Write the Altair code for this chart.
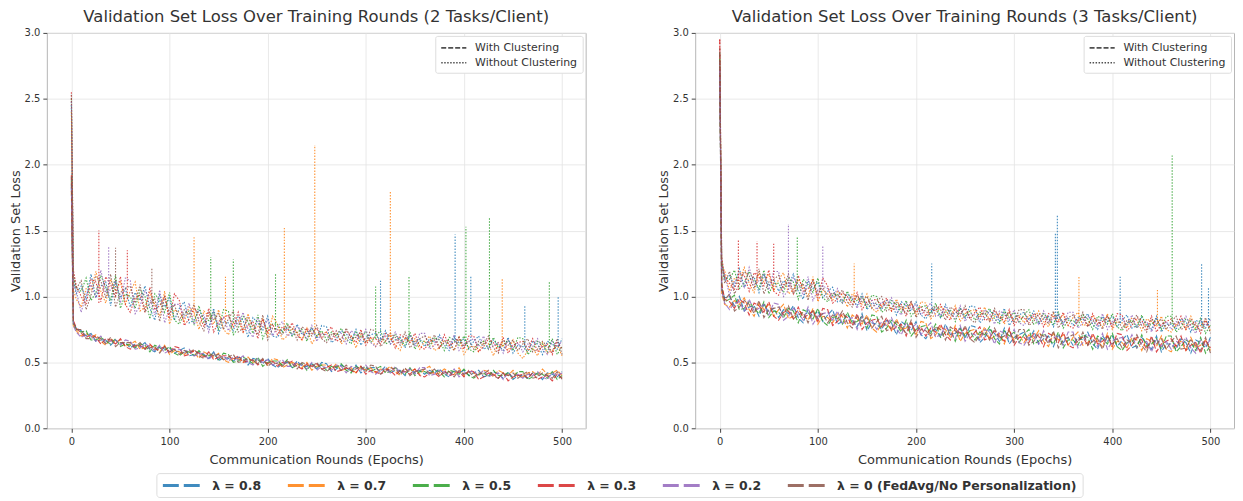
import altair as alt
import pandas as pd

EPOCHS = [0, 2, 5,
          10, 15, 20, 25, 30, 35, 40, 45, 50, 55,
          60, 65, 70, 75, 80, 85, 90, 95, 100, 105,
          110, 115, 120, 125, 130, 135, 140, 145, 150, 155,
          160, 165, 170, 175, 180, 185, 190, 195, 200, 205,
          210, 215, 220, 225, 230, 235, 240, 245, 250, 255,
          260, 265, 270, 275, 280, 285, 290, 295, 300, 305,
          310, 315, 320, 325, 330, 335, 340, 345, 350, 355,
          360, 365, 370, 375, 380, 385, 390, 395, 400, 405,
          410, 415, 420, 425, 430, 435, 440, 445, 450, 455,
          460, 465, 470, 475, 480, 485, 490, 495, 500]
LAMBDAS = ["λ = 0.8", "λ = 0.7", "λ = 0.5", "λ = 0.3", "λ = 0.2",
           "λ = 0 (FedAvg/No Personalization)"]
COLORS = ["#1f77b4", "#ff7f0e", "#2ca02c", "#d62728", "#9467bd", "#8c564b"]
CLUSTERS = ["With Clustering", "Without Clustering"]
PANELS = ["2 Tasks/Client", "3 Tasks/Client"]

# ================= 2 tasks / client, with clustering (dashed) =================
T2_WITH_08 = [1.85, 0.80, 0.76,
              0.74, 0.70, 0.72, 0.66, 0.67, 0.67, 0.63, 0.67, 0.64, 0.65,
              0.61, 0.64, 0.62, 0.65, 0.60, 0.58, 0.62, 0.60, 0.61, 0.57,
              0.59, 0.61, 0.55, 0.56, 0.58, 0.56, 0.53, 0.58, 0.51, 0.54,
              0.53, 0.51, 0.54, 0.53, 0.48, 0.53, 0.52, 0.49, 0.53, 0.48,
              0.46, 0.49, 0.50, 0.46, 0.51, 0.47, 0.47, 0.49, 0.45, 0.50,
              0.49, 0.43, 0.45, 0.48, 0.46, 0.43, 0.48, 0.42, 0.45, 0.46,
              0.46, 0.43, 0.47, 0.42, 0.44, 0.44, 0.40, 0.45, 0.42, 0.44,
              0.41, 0.44, 0.42, 0.45, 0.41, 0.39, 0.44, 0.42, 0.44, 0.40,
              0.42, 0.44, 0.39, 0.40, 0.43, 0.41, 0.38, 0.43, 0.37, 0.40,
              0.40, 0.38, 0.42, 0.41, 0.37, 0.42, 0.41, 0.39, 0.43]
T2_WITH_07 = [1.80, 0.78, 0.74,
              0.70, 0.72, 0.69, 0.71, 0.66, 0.63, 0.68, 0.65, 0.67, 0.62,
              0.64, 0.66, 0.60, 0.61, 0.63, 0.61, 0.58, 0.63, 0.56, 0.59,
              0.58, 0.56, 0.59, 0.58, 0.53, 0.58, 0.56, 0.54, 0.57, 0.52,
              0.50, 0.53, 0.53, 0.50, 0.54, 0.50, 0.51, 0.52, 0.48, 0.53,
              0.52, 0.46, 0.48, 0.50, 0.49, 0.46, 0.50, 0.44, 0.47, 0.48,
              0.48, 0.45, 0.49, 0.44, 0.45, 0.46, 0.42, 0.47, 0.44, 0.46,
              0.42, 0.45, 0.44, 0.47, 0.43, 0.40, 0.45, 0.43, 0.45, 0.41,
              0.45, 0.47, 0.41, 0.42, 0.45, 0.43, 0.41, 0.46, 0.40, 0.43,
              0.42, 0.40, 0.44, 0.43, 0.39, 0.44, 0.42, 0.40, 0.44, 0.39,
              0.39, 0.42, 0.43, 0.40, 0.45, 0.41, 0.42, 0.44, 0.40]
T2_WITH_05 = [1.88, 0.79, 0.75,
              0.73, 0.74, 0.67, 0.67, 0.69, 0.66, 0.64, 0.68, 0.62, 0.64,
              0.63, 0.61, 0.64, 0.63, 0.58, 0.63, 0.61, 0.59, 0.62, 0.57,
              0.55, 0.58, 0.58, 0.55, 0.59, 0.55, 0.55, 0.57, 0.52, 0.57,
              0.56, 0.50, 0.51, 0.54, 0.52, 0.49, 0.54, 0.47, 0.50, 0.51,
              0.51, 0.48, 0.52, 0.46, 0.48, 0.49, 0.44, 0.49, 0.46, 0.48,
              0.44, 0.47, 0.46, 0.49, 0.44, 0.42, 0.47, 0.45, 0.47, 0.43,
              0.45, 0.47, 0.42, 0.43, 0.46, 0.43, 0.41, 0.46, 0.40, 0.43,
              0.43, 0.41, 0.44, 0.43, 0.39, 0.44, 0.43, 0.41, 0.45, 0.40,
              0.38, 0.41, 0.42, 0.39, 0.44, 0.40, 0.40, 0.42, 0.38, 0.43,
              0.43, 0.37, 0.39, 0.42, 0.41, 0.38, 0.43, 0.37, 0.40]
T2_WITH_03 = [1.92, 0.82, 0.76,
              0.72, 0.69, 0.71, 0.69, 0.64, 0.68, 0.67, 0.64, 0.68, 0.62,
              0.60, 0.63, 0.63, 0.60, 0.64, 0.60, 0.60, 0.62, 0.57, 0.62,
              0.61, 0.55, 0.56, 0.59, 0.57, 0.54, 0.58, 0.52, 0.54, 0.55,
              0.55, 0.52, 0.55, 0.50, 0.51, 0.52, 0.48, 0.52, 0.49, 0.51,
              0.47, 0.50, 0.49, 0.51, 0.47, 0.45, 0.49, 0.47, 0.49, 0.45,
              0.46, 0.48, 0.43, 0.44, 0.46, 0.44, 0.42, 0.47, 0.41, 0.44,
              0.43, 0.41, 0.45, 0.44, 0.40, 0.44, 0.43, 0.41, 0.45, 0.40,
              0.39, 0.42, 0.42, 0.39, 0.44, 0.40, 0.41, 0.43, 0.39, 0.44,
              0.43, 0.37, 0.39, 0.42, 0.41, 0.38, 0.42, 0.36, 0.39, 0.40,
              0.41, 0.38, 0.42, 0.37, 0.39, 0.40, 0.36, 0.41, 0.38]
T2_WITH_02 = [1.83, 0.78, 0.73,
              0.69, 0.71, 0.70, 0.66, 0.70, 0.65, 0.66, 0.67, 0.63, 0.67,
              0.66, 0.60, 0.61, 0.64, 0.62, 0.59, 0.63, 0.57, 0.59, 0.60,
              0.60, 0.57, 0.60, 0.55, 0.56, 0.57, 0.52, 0.57, 0.53, 0.55,
              0.51, 0.54, 0.52, 0.55, 0.50, 0.48, 0.53, 0.50, 0.52, 0.48,
              0.50, 0.52, 0.47, 0.47, 0.50, 0.48, 0.45, 0.50, 0.44, 0.47,
              0.46, 0.44, 0.48, 0.47, 0.42, 0.47, 0.46, 0.44, 0.48, 0.43,
              0.41, 0.44, 0.45, 0.42, 0.47, 0.42, 0.43, 0.45, 0.41, 0.46,
              0.46, 0.40, 0.41, 0.44, 0.43, 0.40, 0.45, 0.39, 0.42, 0.43,
              0.43, 0.40, 0.44, 0.39, 0.41, 0.42, 0.37, 0.42, 0.39, 0.41,
              0.38, 0.41, 0.40, 0.43, 0.39, 0.37, 0.42, 0.40, 0.42]
T2_WITH_00 = [1.91, 0.81, 0.75,
              0.75, 0.68, 0.68, 0.70, 0.68, 0.64, 0.69, 0.62, 0.65, 0.65,
              0.65, 0.62, 0.65, 0.60, 0.61, 0.62, 0.57, 0.62, 0.58, 0.60,
              0.56, 0.59, 0.57, 0.60, 0.55, 0.53, 0.57, 0.55, 0.56, 0.52,
              0.54, 0.56, 0.50, 0.51, 0.53, 0.51, 0.49, 0.53, 0.47, 0.50,
              0.49, 0.47, 0.51, 0.49, 0.45, 0.50, 0.48, 0.46, 0.50, 0.45,
              0.43, 0.46, 0.47, 0.44, 0.48, 0.44, 0.45, 0.47, 0.43, 0.48,
              0.47, 0.41, 0.43, 0.46, 0.45, 0.41, 0.46, 0.40, 0.43, 0.44,
              0.45, 0.42, 0.45, 0.40, 0.42, 0.43, 0.39, 0.44, 0.41, 0.43,
              0.39, 0.42, 0.41, 0.44, 0.40, 0.38, 0.42, 0.40, 0.42, 0.38,
              0.41, 0.43, 0.38, 0.39, 0.42, 0.40, 0.38, 0.43, 0.37]

# ================= 2 tasks / client, without clustering (dotted) =================
T2_WITHOUT_08 = [2.45, 1.12, 1.02,
                 1.08, 0.98, 1.17, 0.99, 1.08, 1.11, 0.93, 1.12, 0.99, 1.06,
                 0.92, 1.03, 0.97, 1.08, 0.91, 0.82, 1.01, 0.92, 0.99, 0.82,
                 0.91, 0.96, 0.80, 0.82, 0.90, 0.83, 0.76, 0.91, 0.72, 0.81,
                 0.80, 0.74, 0.85, 0.82, 0.69, 0.84, 0.80, 0.74, 0.85, 0.70,
                 0.69, 0.75, 0.76, 0.70, 0.79, 0.71, 0.72, 0.76, 0.68, 0.78,
                 0.77, 0.65, 0.68, 0.74, 0.72, 0.66, 0.75, 0.63, 0.69, 0.71,
                 0.72, 0.66, 0.74, 0.64, 0.67, 0.69, 0.61, 0.71, 0.64, 0.68,
                 0.62, 0.68, 0.65, 0.71, 0.63, 0.59, 0.69, 0.65, 0.68, 0.60,
                 0.66, 0.70, 0.60, 0.62, 0.67, 0.63, 0.59, 0.69, 0.57, 0.63,
                 0.62, 0.58, 0.66, 0.64, 0.56, 0.66, 0.64, 0.60, 0.68]
T2_WITHOUT_07 = [2.40, 1.05, 0.98,
                 0.92, 1.06, 1.05, 1.19, 1.04, 0.95, 1.13, 1.04, 1.11, 0.94,
                 1.04, 1.11, 0.89, 0.92, 1.03, 0.94, 0.85, 1.04, 0.79, 0.90,
                 0.88, 0.81, 0.92, 0.88, 0.75, 0.89, 0.85, 0.79, 0.90, 0.75,
                 0.71, 0.80, 0.82, 0.73, 0.87, 0.75, 0.77, 0.83, 0.70, 0.85,
                 0.79, 0.67, 0.70, 0.76, 0.73, 0.67, 0.76, 0.64, 0.70, 0.72,
                 0.73, 0.67, 0.74, 0.64, 0.68, 0.70, 0.61, 0.71, 0.65, 0.69,
                 0.62, 0.68, 0.66, 0.72, 0.63, 0.59, 0.69, 0.65, 0.68, 0.60,
                 0.66, 0.70, 0.59, 0.61, 0.67, 0.63, 0.59, 0.69, 0.56, 0.62,
                 0.62, 0.58, 0.66, 0.64, 0.55, 0.65, 0.63, 0.59, 0.67, 0.57,
                 0.53, 0.59, 0.61, 0.55, 0.65, 0.57, 0.59, 0.63, 0.55]
T2_WITHOUT_05 = [2.50, 1.15, 1.06,
                 1.04, 1.14, 0.97, 1.03, 1.16, 1.07, 0.97, 1.16, 0.91, 1.02,
                 1.00, 0.91, 1.05, 1.00, 0.83, 1.02, 0.97, 0.88, 1.03, 0.82,
                 0.79, 0.87, 0.89, 0.79, 0.93, 0.80, 0.82, 0.88, 0.75, 0.90,
                 0.89, 0.71, 0.76, 0.85, 0.81, 0.72, 0.86, 0.68, 0.76, 0.79,
                 0.79, 0.73, 0.80, 0.70, 0.73, 0.75, 0.66, 0.76, 0.70, 0.74,
                 0.67, 0.73, 0.70, 0.76, 0.68, 0.64, 0.73, 0.69, 0.73, 0.65,
                 0.70, 0.74, 0.64, 0.66, 0.71, 0.67, 0.63, 0.73, 0.60, 0.66,
                 0.66, 0.62, 0.69, 0.67, 0.59, 0.69, 0.67, 0.63, 0.70, 0.60,
                 0.58, 0.64, 0.66, 0.60, 0.69, 0.61, 0.63, 0.67, 0.59, 0.69,
                 0.68, 0.56, 0.60, 0.66, 0.64, 0.58, 0.68, 0.56, 0.62]
T2_WITHOUT_03 = [2.55, 1.20, 1.08,
                 1.00, 0.94, 1.13, 1.11, 0.96, 1.15, 1.09, 1.00, 1.15, 0.94,
                 0.88, 0.99, 1.01, 0.88, 1.07, 0.90, 0.93, 1.00, 0.83, 1.02,
                 0.97, 0.78, 0.83, 0.91, 0.87, 0.77, 0.91, 0.73, 0.81, 0.84,
                 0.86, 0.77, 0.88, 0.73, 0.78, 0.81, 0.68, 0.83, 0.73, 0.79,
                 0.71, 0.77, 0.74, 0.80, 0.71, 0.67, 0.76, 0.72, 0.76, 0.68,
                 0.73, 0.77, 0.66, 0.68, 0.74, 0.70, 0.65, 0.75, 0.63, 0.69,
                 0.68, 0.64, 0.72, 0.70, 0.61, 0.71, 0.69, 0.65, 0.72, 0.62,
                 0.60, 0.66, 0.67, 0.61, 0.71, 0.63, 0.65, 0.69, 0.60, 0.70,
                 0.70, 0.58, 0.62, 0.68, 0.65, 0.59, 0.69, 0.57, 0.63, 0.65,
                 0.66, 0.60, 0.68, 0.58, 0.62, 0.64, 0.56, 0.66, 0.60]
T2_WITHOUT_02 = [2.48, 1.10, 1.04,
                 0.88, 1.02, 1.09, 0.99, 1.20, 1.03, 1.05, 1.12, 0.95, 1.14,
                 1.12, 0.87, 0.93, 1.04, 0.99, 0.86, 1.05, 0.80, 0.91, 0.94,
                 0.94, 0.84, 0.95, 0.79, 0.84, 0.86, 0.73, 0.88, 0.78, 0.84,
                 0.74, 0.83, 0.79, 0.88, 0.75, 0.69, 0.83, 0.77, 0.82, 0.70,
                 0.77, 0.81, 0.70, 0.72, 0.77, 0.73, 0.68, 0.78, 0.66, 0.72,
                 0.71, 0.67, 0.74, 0.72, 0.64, 0.74, 0.71, 0.67, 0.75, 0.65,
                 0.62, 0.68, 0.70, 0.64, 0.73, 0.65, 0.67, 0.71, 0.62, 0.72,
                 0.72, 0.60, 0.63, 0.69, 0.67, 0.61, 0.71, 0.59, 0.64, 0.66,
                 0.68, 0.62, 0.70, 0.60, 0.63, 0.65, 0.57, 0.67, 0.61, 0.65,
                 0.58, 0.64, 0.62, 0.68, 0.60, 0.56, 0.66, 0.62, 0.66]
T2_WITHOUT_00 = [2.53, 1.18, 1.06,
                 1.12, 0.90, 1.01, 1.15, 1.12, 0.99, 1.17, 0.92, 1.03, 1.06,
                 1.08, 0.95, 1.09, 0.88, 0.95, 0.98, 0.81, 1.00, 0.87, 0.94,
                 0.82, 0.90, 0.86, 0.94, 0.81, 0.74, 0.88, 0.82, 0.87, 0.75,
                 0.83, 0.89, 0.73, 0.76, 0.84, 0.78, 0.71, 0.86, 0.67, 0.76,
                 0.75, 0.71, 0.78, 0.76, 0.67, 0.77, 0.74, 0.70, 0.78, 0.68,
                 0.65, 0.71, 0.72, 0.66, 0.76, 0.68, 0.69, 0.73, 0.65, 0.75,
                 0.74, 0.62, 0.66, 0.72, 0.69, 0.63, 0.73, 0.61, 0.66, 0.68,
                 0.70, 0.64, 0.71, 0.61, 0.65, 0.67, 0.59, 0.69, 0.62, 0.66,
                 0.60, 0.66, 0.64, 0.70, 0.61, 0.57, 0.67, 0.63, 0.67, 0.59,
                 0.64, 0.68, 0.58, 0.60, 0.66, 0.62, 0.58, 0.68, 0.56]

# ================= 3 tasks / client, with clustering (dashed) =================
T3_WITH_08 = [2.70, 1.05, 0.99,
              1.00, 0.93, 1.00, 0.89, 0.92, 0.93, 0.85, 0.94, 0.88, 0.91,
              0.84, 0.90, 0.87, 0.93, 0.84, 0.80, 0.90, 0.85, 0.89, 0.81,
              0.86, 0.90, 0.79, 0.81, 0.86, 0.82, 0.77, 0.87, 0.74, 0.80,
              0.79, 0.75, 0.82, 0.80, 0.71, 0.81, 0.78, 0.74, 0.81, 0.71,
              0.68, 0.74, 0.75, 0.69, 0.79, 0.71, 0.72, 0.76, 0.68, 0.78,
              0.77, 0.65, 0.69, 0.75, 0.72, 0.66, 0.76, 0.64, 0.69, 0.71,
              0.73, 0.67, 0.74, 0.64, 0.68, 0.70, 0.62, 0.71, 0.65, 0.69,
              0.63, 0.69, 0.67, 0.73, 0.64, 0.60, 0.70, 0.66, 0.70, 0.62,
              0.67, 0.71, 0.61, 0.63, 0.69, 0.64, 0.60, 0.70, 0.58, 0.64,
              0.64, 0.60, 0.68, 0.65, 0.57, 0.67, 0.65, 0.61, 0.69]
T3_WITH_07 = [2.75, 1.02, 0.94,
              0.92, 0.97, 0.94, 0.99, 0.90, 0.85, 0.95, 0.90, 0.94, 0.85,
              0.90, 0.94, 0.83, 0.85, 0.90, 0.86, 0.82, 0.91, 0.79, 0.85,
              0.84, 0.80, 0.87, 0.85, 0.76, 0.86, 0.83, 0.79, 0.86, 0.76,
              0.73, 0.79, 0.80, 0.74, 0.83, 0.75, 0.76, 0.80, 0.71, 0.81,
              0.80, 0.68, 0.71, 0.77, 0.75, 0.69, 0.78, 0.66, 0.72, 0.74,
              0.75, 0.69, 0.77, 0.67, 0.70, 0.72, 0.64, 0.74, 0.67, 0.71,
              0.65, 0.71, 0.68, 0.74, 0.66, 0.62, 0.72, 0.67, 0.71, 0.63,
              0.69, 0.73, 0.63, 0.65, 0.70, 0.66, 0.62, 0.72, 0.60, 0.66,
              0.65, 0.61, 0.69, 0.67, 0.59, 0.68, 0.66, 0.62, 0.70, 0.60,
              0.58, 0.64, 0.66, 0.59, 0.69, 0.61, 0.63, 0.67, 0.59]
T3_WITH_05 = [2.80, 1.08, 0.96,
              0.98, 1.01, 0.90, 0.91, 0.96, 0.91, 0.87, 0.96, 0.84, 0.89,
              0.88, 0.84, 0.91, 0.89, 0.80, 0.90, 0.88, 0.83, 0.91, 0.81,
              0.78, 0.84, 0.85, 0.79, 0.88, 0.80, 0.81, 0.85, 0.76, 0.86,
              0.85, 0.73, 0.76, 0.82, 0.79, 0.73, 0.82, 0.70, 0.75, 0.77,
              0.78, 0.72, 0.79, 0.69, 0.73, 0.75, 0.66, 0.76, 0.70, 0.74,
              0.67, 0.73, 0.71, 0.77, 0.68, 0.64, 0.74, 0.70, 0.73, 0.65,
              0.71, 0.75, 0.64, 0.66, 0.72, 0.68, 0.64, 0.73, 0.61, 0.67,
              0.67, 0.63, 0.71, 0.69, 0.60, 0.70, 0.68, 0.64, 0.72, 0.62,
              0.59, 0.65, 0.67, 0.61, 0.71, 0.62, 0.64, 0.68, 0.60, 0.70,
              0.70, 0.58, 0.62, 0.67, 0.65, 0.59, 0.69, 0.57, 0.63]
T3_WITH_03 = [2.95, 1.10, 0.98,
              0.96, 0.91, 0.98, 0.95, 0.86, 0.95, 0.93, 0.88, 0.96, 0.85,
              0.82, 0.88, 0.89, 0.83, 0.92, 0.84, 0.86, 0.89, 0.81, 0.91,
              0.90, 0.78, 0.81, 0.87, 0.84, 0.78, 0.87, 0.75, 0.80, 0.82,
              0.83, 0.77, 0.84, 0.74, 0.77, 0.79, 0.70, 0.80, 0.73, 0.77,
              0.70, 0.76, 0.73, 0.79, 0.71, 0.67, 0.76, 0.72, 0.76, 0.68,
              0.73, 0.77, 0.67, 0.69, 0.74, 0.70, 0.66, 0.76, 0.63, 0.69,
              0.69, 0.65, 0.72, 0.70, 0.62, 0.72, 0.70, 0.65, 0.73, 0.63,
              0.61, 0.67, 0.69, 0.63, 0.72, 0.64, 0.66, 0.70, 0.62, 0.72,
              0.71, 0.59, 0.63, 0.69, 0.67, 0.60, 0.70, 0.58, 0.64, 0.66,
              0.68, 0.62, 0.70, 0.59, 0.63, 0.65, 0.57, 0.67, 0.61]
T3_WITH_02 = [2.72, 1.04, 0.95,
              0.90, 0.95, 0.96, 0.89, 0.98, 0.89, 0.91, 0.94, 0.86, 0.95,
              0.94, 0.82, 0.85, 0.91, 0.88, 0.82, 0.92, 0.79, 0.85, 0.87,
              0.88, 0.82, 0.89, 0.79, 0.82, 0.84, 0.75, 0.85, 0.78, 0.82,
              0.75, 0.81, 0.78, 0.84, 0.75, 0.71, 0.80, 0.76, 0.79, 0.71,
              0.76, 0.80, 0.69, 0.71, 0.77, 0.73, 0.68, 0.78, 0.66, 0.72,
              0.71, 0.67, 0.75, 0.73, 0.64, 0.74, 0.72, 0.68, 0.75, 0.65,
              0.63, 0.69, 0.70, 0.64, 0.74, 0.66, 0.68, 0.71, 0.63, 0.73,
              0.73, 0.61, 0.65, 0.71, 0.68, 0.62, 0.72, 0.60, 0.66, 0.68,
              0.69, 0.63, 0.71, 0.61, 0.65, 0.66, 0.58, 0.68, 0.62, 0.66,
              0.60, 0.66, 0.64, 0.69, 0.61, 0.57, 0.67, 0.63, 0.67]
T3_WITH_00 = [2.85, 1.06, 0.97,
              1.02, 0.89, 0.92, 0.97, 0.94, 0.87, 0.97, 0.84, 0.90, 0.91,
              0.92, 0.86, 0.93, 0.83, 0.86, 0.88, 0.80, 0.89, 0.83, 0.87,
              0.80, 0.86, 0.83, 0.89, 0.80, 0.76, 0.85, 0.81, 0.84, 0.76,
              0.81, 0.85, 0.74, 0.76, 0.81, 0.77, 0.72, 0.82, 0.69, 0.75,
              0.74, 0.70, 0.77, 0.75, 0.67, 0.77, 0.74, 0.70, 0.78, 0.68,
              0.65, 0.71, 0.73, 0.67, 0.76, 0.68, 0.70, 0.74, 0.65, 0.75,
              0.75, 0.63, 0.66, 0.72, 0.70, 0.64, 0.74, 0.61, 0.67, 0.69,
              0.71, 0.65, 0.73, 0.63, 0.66, 0.68, 0.60, 0.70, 0.64, 0.68,
              0.61, 0.67, 0.65, 0.71, 0.63, 0.58, 0.68, 0.64, 0.68, 0.60,
              0.66, 0.70, 0.60, 0.61, 0.67, 0.63, 0.59, 0.69, 0.57]

# ================= 3 tasks / client, without clustering (dotted) =================
T3_WITHOUT_08 = [2.75, 1.25, 1.12,
                 1.16, 1.08, 1.21, 1.07, 1.13, 1.15, 1.03, 1.17, 1.08, 1.13,
                 1.04, 1.12, 1.08, 1.17, 1.04, 0.98, 1.12, 1.06, 1.11, 0.99,
                 1.04, 1.07, 0.96, 0.97, 1.02, 0.98, 0.93, 1.02, 0.90, 0.95,
                 0.94, 0.90, 0.97, 0.95, 0.86, 0.96, 0.93, 0.89, 0.96, 0.86,
                 0.83, 0.89, 0.91, 0.84, 0.94, 0.86, 0.87, 0.91, 0.83, 0.93,
                 0.92, 0.80, 0.84, 0.89, 0.87, 0.81, 0.91, 0.78, 0.84, 0.86,
                 0.88, 0.82, 0.89, 0.79, 0.83, 0.85, 0.77, 0.86, 0.80, 0.84,
                 0.78, 0.84, 0.82, 0.87, 0.79, 0.75, 0.85, 0.81, 0.85, 0.77,
                 0.82, 0.86, 0.76, 0.78, 0.84, 0.79, 0.75, 0.85, 0.73, 0.79,
                 0.79, 0.75, 0.83, 0.81, 0.73, 0.82, 0.80, 0.76, 0.84]
T3_WITHOUT_07 = [2.80, 1.20, 1.20,
                 1.04, 1.14, 1.12, 1.22, 1.10, 1.03, 1.18, 1.11, 1.17, 1.04,
                 1.13, 1.18, 1.02, 1.05, 1.13, 1.07, 1.00, 1.15, 0.96, 1.05,
                 1.02, 0.97, 1.04, 1.01, 0.92, 1.02, 0.99, 0.94, 1.02, 0.91,
                 0.88, 0.94, 0.95, 0.89, 0.98, 0.90, 0.91, 0.95, 0.86, 0.96,
                 0.95, 0.83, 0.87, 0.92, 0.90, 0.84, 0.93, 0.81, 0.87, 0.89,
                 0.90, 0.84, 0.92, 0.81, 0.85, 0.87, 0.79, 0.88, 0.82, 0.86,
                 0.80, 0.86, 0.83, 0.89, 0.81, 0.77, 0.87, 0.82, 0.86, 0.78,
                 0.84, 0.88, 0.78, 0.79, 0.85, 0.81, 0.77, 0.87, 0.75, 0.81,
                 0.80, 0.76, 0.84, 0.82, 0.74, 0.83, 0.81, 0.77, 0.85, 0.75,
                 0.73, 0.79, 0.81, 0.75, 0.85, 0.76, 0.78, 0.82, 0.74]
T3_WITHOUT_05 = [2.85, 1.28, 1.14,
                 1.13, 1.20, 1.06, 1.10, 1.19, 1.12, 1.06, 1.20, 1.02, 1.10,
                 1.10, 1.03, 1.14, 1.11, 0.98, 1.13, 1.09, 1.03, 1.14, 0.99,
                 0.96, 1.01, 1.02, 0.95, 1.04, 0.96, 0.97, 1.00, 0.92, 1.01,
                 1.00, 0.88, 0.91, 0.97, 0.94, 0.88, 0.97, 0.85, 0.90, 0.92,
                 0.93, 0.87, 0.95, 0.84, 0.88, 0.90, 0.81, 0.91, 0.85, 0.89,
                 0.82, 0.88, 0.86, 0.91, 0.83, 0.79, 0.89, 0.84, 0.88, 0.80,
                 0.86, 0.90, 0.79, 0.81, 0.87, 0.83, 0.79, 0.88, 0.76, 0.82,
                 0.82, 0.78, 0.86, 0.83, 0.75, 0.85, 0.83, 0.79, 0.87, 0.77,
                 0.74, 0.80, 0.82, 0.76, 0.86, 0.77, 0.79, 0.83, 0.75, 0.85,
                 0.85, 0.73, 0.77, 0.83, 0.81, 0.74, 0.84, 0.72, 0.78]
T3_WITHOUT_03 = [2.95, 1.30, 1.15,
                 1.10, 1.05, 1.18, 1.16, 1.04, 1.18, 1.15, 1.08, 1.20, 1.04,
                 1.01, 1.09, 1.11, 1.02, 1.16, 1.04, 1.06, 1.12, 0.99, 1.14,
                 1.08, 0.95, 0.98, 1.03, 1.00, 0.94, 1.03, 0.90, 0.96, 0.97,
                 0.98, 0.92, 0.99, 0.89, 0.92, 0.94, 0.85, 0.95, 0.88, 0.92,
                 0.85, 0.91, 0.89, 0.94, 0.86, 0.82, 0.91, 0.87, 0.91, 0.83,
                 0.88, 0.92, 0.82, 0.83, 0.89, 0.85, 0.81, 0.90, 0.78, 0.84,
                 0.84, 0.80, 0.87, 0.85, 0.77, 0.87, 0.85, 0.80, 0.88, 0.78,
                 0.76, 0.82, 0.84, 0.77, 0.87, 0.79, 0.81, 0.85, 0.77, 0.87,
                 0.86, 0.74, 0.78, 0.84, 0.82, 0.75, 0.85, 0.73, 0.79, 0.81,
                 0.83, 0.77, 0.85, 0.75, 0.79, 0.80, 0.72, 0.82, 0.76]
T3_WITHOUT_02 = [2.78, 1.22, 1.17,
                 1.01, 1.11, 1.15, 1.07, 1.22, 1.09, 1.12, 1.17, 1.05, 1.19,
                 1.19, 1.00, 1.05, 1.14, 1.10, 1.01, 1.15, 0.97, 1.05, 1.08,
                 1.06, 0.99, 1.06, 0.95, 0.98, 1.00, 0.91, 1.00, 0.94, 0.97,
                 0.90, 0.96, 0.93, 0.99, 0.90, 0.86, 0.95, 0.91, 0.94, 0.86,
                 0.91, 0.95, 0.85, 0.86, 0.92, 0.88, 0.83, 0.93, 0.81, 0.87,
                 0.86, 0.82, 0.90, 0.87, 0.79, 0.89, 0.87, 0.82, 0.90, 0.80,
                 0.78, 0.84, 0.85, 0.79, 0.89, 0.81, 0.83, 0.86, 0.78, 0.88,
                 0.88, 0.76, 0.80, 0.85, 0.83, 0.77, 0.87, 0.75, 0.81, 0.83,
                 0.84, 0.78, 0.86, 0.76, 0.80, 0.81, 0.73, 0.83, 0.77, 0.81,
                 0.75, 0.81, 0.79, 0.85, 0.77, 0.72, 0.82, 0.78, 0.82]
T3_WITHOUT_00 = [2.88, 1.27, 1.10,
                 1.19, 1.02, 1.09, 1.19, 1.16, 1.06, 1.21, 1.02, 1.11, 1.13,
                 1.16, 1.06, 1.17, 1.02, 1.07, 1.10, 0.97, 1.12, 1.02, 1.08,
                 0.98, 1.03, 1.00, 1.05, 0.96, 0.92, 1.01, 0.96, 1.00, 0.91,
                 0.96, 1.00, 0.89, 0.91, 0.96, 0.92, 0.87, 0.97, 0.84, 0.90,
                 0.89, 0.85, 0.93, 0.90, 0.82, 0.92, 0.89, 0.85, 0.93, 0.83,
                 0.80, 0.86, 0.88, 0.81, 0.91, 0.83, 0.85, 0.88, 0.80, 0.90,
                 0.90, 0.78, 0.81, 0.87, 0.85, 0.79, 0.89, 0.76, 0.82, 0.84,
                 0.86, 0.80, 0.88, 0.77, 0.81, 0.83, 0.75, 0.85, 0.79, 0.83,
                 0.76, 0.82, 0.80, 0.86, 0.78, 0.73, 0.83, 0.79, 0.83, 0.75,
                 0.81, 0.85, 0.75, 0.77, 0.83, 0.78, 0.74, 0.84, 0.72]

# ---- isolated one-round spikes (epoch, level before the spike, spike peak) ----
SPIKE_PANEL = ["2 Tasks/Client"] * 24 + ["3 Tasks/Client"] * 16
SPIKE_LAMBDA = [3, 4, 5, 3, 1, 2, 1, 2, 2, 1, 1, 2, 0, 1, 2, 0, 2, 0, 2, 1, 0, 2, 0, 5,
                3, 3, 3, 4, 2, 4, 1, 0, 0, 0, 1, 0, 1, 2, 0, 0]
SPIKE_CLUST = [1] * 40
SPIKE_EPOCH = [28, 38, 45, 57, 125, 142, 157, 165, 208, 217, 248, 310, 315, 325, 344, 391,
               402, 407, 426, 439, 462, 487, 496, 82,
               19, 38, 55, 70, 79, 105, 137, 216, 342, 344, 366, 408, 446, 461, 491, 498]
SPIKE_BASE = [0.95, 1.00, 1.00, 0.98, 0.85, 0.82, 0.80, 0.80, 0.75, 0.74, 0.72, 0.68,
              0.68, 0.67, 0.66, 0.65, 0.64, 0.64, 0.63, 0.62, 0.62, 0.62, 0.62, 0.95,
              1.05, 1.10, 1.05, 1.05, 1.05, 1.05, 0.95, 0.88, 0.83, 0.83, 0.82, 0.80,
              0.79, 0.79, 0.78, 0.78]
SPIKE_PEAK = [1.50, 1.38, 1.37, 1.35, 1.45, 1.30, 1.15, 1.28, 1.17, 1.52, 2.15, 1.08,
              1.12, 1.80, 1.15, 1.47, 1.53, 1.15, 1.60, 1.13, 0.93, 1.12, 1.00, 1.22,
              1.43, 1.42, 1.40, 1.55, 1.45, 1.38, 1.25, 1.25, 1.48, 1.62, 1.15, 1.15,
              1.05, 2.07, 1.25, 1.07]

SERIES = [
    ("2 Tasks/Client", 0, 0, T2_WITH_08), ("2 Tasks/Client", 0, 1, T2_WITHOUT_08),
    ("2 Tasks/Client", 1, 0, T2_WITH_07), ("2 Tasks/Client", 1, 1, T2_WITHOUT_07),
    ("2 Tasks/Client", 2, 0, T2_WITH_05), ("2 Tasks/Client", 2, 1, T2_WITHOUT_05),
    ("2 Tasks/Client", 3, 0, T2_WITH_03), ("2 Tasks/Client", 3, 1, T2_WITHOUT_03),
    ("2 Tasks/Client", 4, 0, T2_WITH_02), ("2 Tasks/Client", 4, 1, T2_WITHOUT_02),
    ("2 Tasks/Client", 5, 0, T2_WITH_00), ("2 Tasks/Client", 5, 1, T2_WITHOUT_00),
    ("3 Tasks/Client", 0, 0, T3_WITH_08), ("3 Tasks/Client", 0, 1, T3_WITHOUT_08),
    ("3 Tasks/Client", 1, 0, T3_WITH_07), ("3 Tasks/Client", 1, 1, T3_WITHOUT_07),
    ("3 Tasks/Client", 2, 0, T3_WITH_05), ("3 Tasks/Client", 2, 1, T3_WITHOUT_05),
    ("3 Tasks/Client", 3, 0, T3_WITH_03), ("3 Tasks/Client", 3, 1, T3_WITHOUT_03),
    ("3 Tasks/Client", 4, 0, T3_WITH_02), ("3 Tasks/Client", 4, 1, T3_WITHOUT_02),
    ("3 Tasks/Client", 5, 0, T3_WITH_00), ("3 Tasks/Client", 5, 1, T3_WITHOUT_00),
]

rows = []
for panel, li, ci, vals in SERIES:
    for e, v in zip(EPOCHS, vals):
        rows.append({"panel": panel, "lam": LAMBDAS[li], "clust": CLUSTERS[ci],
                     "epoch": e, "loss": v})
lines_df = pd.DataFrame(rows)

spikes_df = pd.DataFrame({
    "panel": SPIKE_PANEL,
    "lam": [LAMBDAS[i] for i in SPIKE_LAMBDA],
    "clust": [CLUSTERS[i] for i in SPIKE_CLUST],
    "epoch": SPIKE_EPOCH,
    "base": SPIKE_BASE,
    "peak": SPIKE_PEAK,
})

FONT = "DejaVu Sans"
TEXT = "#333333"

color_enc = alt.Color(
    "lam:N",
    scale=alt.Scale(domain=LAMBDAS, range=COLORS),
    legend=alt.Legend(
        title=None, orient="none", legendX=110, legendY=442, direction="horizontal",
        symbolType="M-1,0H5.33", symbolSize=144, symbolDash=[16, 5],
        symbolStrokeWidth=3, labelFontWeight="bold", labelFontSize=12.5,
        labelFont=FONT, labelColor=TEXT, labelOffset=36, columnPadding=19.5,
        padding=5, fillColor="white", strokeColor="#dddddd", cornerRadius=3,
        labelLimit=400,
    ),
)
dash_enc = alt.StrokeDash(
    "clust:N",
    scale=alt.Scale(domain=CLUSTERS, range=[[5, 2], [1.5, 1.5]]),
    legend=alt.Legend(
        title=None, orient="top-right", offset=3, symbolType="M-1,0H3.2",
        symbolSize=144, symbolStrokeColor="#333333", symbolStrokeWidth=1.6,
        labelFontSize=11, labelFont=FONT, labelColor=TEXT, rowPadding=3,
        labelOffset=21, padding=5, fillColor="white", strokeColor="#dddddd",
        cornerRadius=2,
    ),
)


def panel_chart(panel):
    x_enc = alt.X(
        "epoch:Q",
        scale=alt.Scale(domain=[-25, 524], nice=False, zero=False),
        axis=alt.Axis(values=[0, 100, 200, 300, 400, 500],
                      title="Communication Rounds (Epochs)", format="d"),
    )
    y_enc = alt.Y(
        "loss:Q",
        scale=alt.Scale(domain=[0, 3], nice=False),
        axis=alt.Axis(values=[0, 0.5, 1.0, 1.5, 2.0, 2.5, 3.0], format=".1f",
                      title="Validation Set Loss"),
    )
    lines = alt.Chart(lines_df[lines_df.panel == panel]).mark_line(
        strokeWidth=1.1, opacity=0.85
    ).encode(x=x_enc, y=y_enc, color=color_enc, strokeDash=dash_enc, order="epoch:Q")
    spikes = alt.Chart(spikes_df[spikes_df.panel == panel]).mark_rule(
        strokeWidth=1.1, opacity=0.85
    ).encode(x="epoch:Q", y="base:Q", y2="peak:Q", color=color_enc, strokeDash=dash_enc)
    return alt.layer(lines, spikes).properties(
        width=541, height=397,
        title=alt.TitleParams(
            f"Validation Set Loss Over Training Rounds ({panel})",
            fontSize=16.5, font=FONT, fontWeight="normal", color=TEXT, offset=2,
        ),
    )


chart = alt.hconcat(
    panel_chart(PANELS[0]), panel_chart(PANELS[1]), spacing=70
).resolve_scale(
    color="shared", strokeDash="independent"
).resolve_legend(
    color="shared", strokeDash="independent"
).properties(
    padding={"left": 0, "top": 0, "right": 0, "bottom": 0}
).configure_view(
    stroke="#b5b5b5", strokeWidth=1
).configure_axis(
    labelFont=FONT, titleFont=FONT, labelFontSize=10, titleFontSize=13,
    labelColor=TEXT, titleColor=TEXT, tickColor="#444444", tickSize=4,
    domain=False, grid=True, gridColor="#e3e3e3", gridWidth=0.8,
    labelPadding=3, titlePadding=2, titleFontWeight="normal",
).configure_axisX(
    labelPadding=4, titlePadding=7,
)

chart.save("out.html", embed_options={"renderer": "svg", "actions": False})
